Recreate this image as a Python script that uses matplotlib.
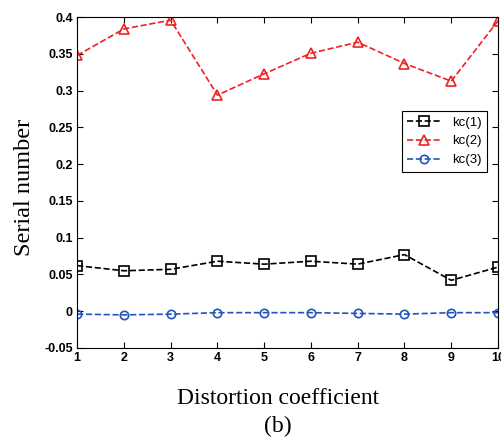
import numpy as np
import matplotlib.pyplot as plt

x = [1, 2, 3, 4, 5, 6, 7, 8, 9, 10]
kc1 = [0.062, 0.055, 0.057, 0.068, 0.064, 0.068, 0.064, 0.077, 0.042, 0.060]
kc2 = [0.348, 0.384, 0.396, 0.294, 0.323, 0.351, 0.366, 0.337, 0.313, 0.395]
kc3 = [-0.004, -0.005, -0.004, -0.002, -0.002, -0.002, -0.003, -0.004, -0.002, -0.002]
yticks = [-0.05, 0, 0.05, 0.1, 0.15, 0.2, 0.25, 0.3, 0.35, 0.4]
ytick_labels = ['-0.05', '0', '0.05', '0.1', '0.15', '0.2', '0.25', '0.3', '0.35', '0.4']

fig = plt.figure(figsize=(5.01, 4.41), dpi=100)
ax = fig.add_axes([0.154, 0.211, 0.840, 0.750])

ax.plot(x, kc1, '--s', color='black', lw=1.2, ms=7, mfc='none', mew=1.2, label='kc(1)')
ax.plot(x, kc2, '--^', color='#ee2222', lw=1.2, ms=7, mfc='none', mew=1.2, label='kc(2)')
ax.plot(x, kc3, '--o', color='#2255bb', lw=1.2, ms=6, mfc='none', mew=1.2, label='kc(3)')

ax.set_xlim(1, 10)
ax.set_ylim(-0.05, 0.4)
ax.set_xticks(x)
ax.set_yticks(yticks)
ax.set_yticklabels(ytick_labels)
ax.tick_params(direction='in', length=4, top=True, right=True, pad=3)
for lab in ax.get_xticklabels() + ax.get_yticklabels():
    lab.set_fontfamily('Liberation Sans')
    lab.set_fontweight('bold')
    lab.set_fontsize(9)

# axis titles placed by hand to match the original layout
fig.text(0.048, 0.574, 'Serial number', fontfamily='Liberation Serif', fontsize=17.5,
         rotation=90, ha='center', va='center')
fig.text(0.555, 0.097, 'Distortion coefficient', fontfamily='Liberation Serif',
         fontsize=17, ha='center', va='center')
fig.text(0.555, 0.033, '(b)', fontfamily='Liberation Serif', fontsize=17,
         ha='center', va='center')

leg = ax.legend(loc='upper right', bbox_to_anchor=(0.974, 0.716), fancybox=False,
                edgecolor='black', framealpha=1, prop={'family': 'Liberation Sans', 'size': 9.5},
                handlelength=2.6, borderaxespad=0)
leg.get_frame().set_linewidth(0.8)

fig.savefig('out.png', dpi=100)
